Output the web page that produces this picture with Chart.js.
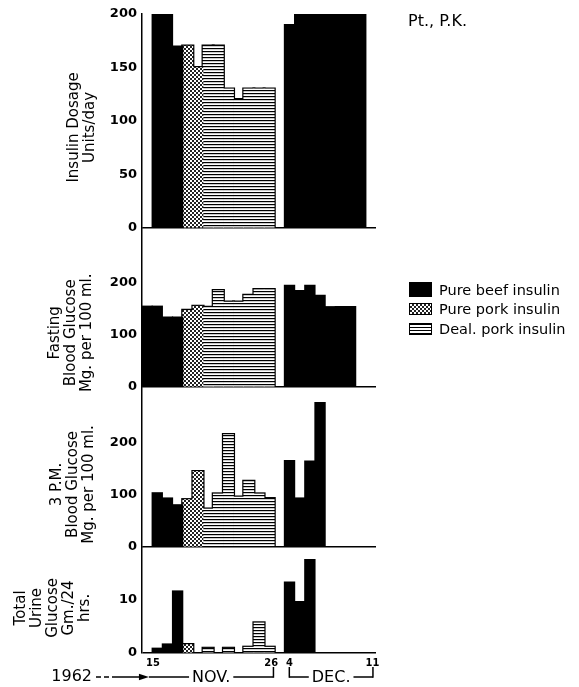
<!DOCTYPE html>
<html>
<head>
<meta charset="utf-8">
<title>Insulin dosage and glucose, Pt. P.K.</title>
<script src="https://cdn.jsdelivr.net/npm/chart.js@4/dist/chart.umd.min.js"></script>
<style>
  html, body { margin: 0; padding: 0; background: #fff; }
  #wrap { position: relative; width: 579px; height: 687px; font-family: "DejaVu Sans", sans-serif; color: #000; }
  #myChart { position: absolute; left: 0; top: 0; }
  #patient { position: absolute; left: 408px; top: 11px; font-size: 16px; }
  #legend { position: absolute; left: 409px; top: 280px; font-size: 14.5px; }
  .row { display: flex; align-items: center; height: 19.5px; white-space: nowrap; }
  .sw { width: 23px; height: 12px; margin-right: 7px; box-sizing: border-box; border: 1.5px solid #000; }
  .sw.beef { background: #000; height: 15px; }
  .sw.pork { background: repeating-conic-gradient(#222 0 25%, #fff 0 50%) 0 0 / 4px 4px; }
  .sw.deal { background: repeating-linear-gradient(to bottom, #000 0 1px, #fff 1px 3px); }
</style>
</head>
<body>
<div id="wrap">
  <canvas id="myChart" width="579" height="687"></canvas>
  <div id="patient">Pt., P.K.</div>
  <div id="legend"></div>
</div>
<script>
// one slot per day, Nov 14 .. Nov 26, a break, then Dec 4 .. Dec 12
const dayLabels = [
  "Nov 14", "Nov 15", "Nov 16", "Nov 17", "Nov 18", "Nov 19", "Nov 20",
  "Nov 21", "Nov 22", "Nov 23", "Nov 24", "Nov 25", "Nov 26", "...",
  "Dec 4", "Dec 5", "Dec 6", "Dec 7", "Dec 8", "Dec 9", "Dec 10", "Dec 11", "Dec 12",
];

const seriesNames = ["Pure beef insulin", "Pure pork insulin", "Deal. pork insulin"];

// Insulin dosage, units/day
const insulinBeef = [null, 200, 200, 170, null, null, null, null, null, null, null, null, null, null, 190, 200, 200, 200, 200, 200, 200, 200, null];
const insulinPork = [null, null, null, null, 170, 150, null, null, null, null, null, null, null, null, null, null, null, null, null, null, null, null, null];
const insulinDeal = [null, null, null, null, null, null, 170, 170, 130, 120, 130, 130, 130, null, null, null, null, null, null, null, null, null, null];

// Fasting blood glucose, mg per 100 ml
const fastingBeef = [155, 155, 134, 134, null, null, null, null, null, null, null, null, null, null, 195, 185, 195, 176, 154, 154, 154, null, null];
const fastingPork = [null, null, null, null, 147, 155, null, null, null, null, null, null, null, null, null, null, null, null, null, null, null, null, null];
const fastingDeal = [null, null, null, null, null, null, 153, 185, 163, 163, 176, 187, 187, null, null, null, null, null, null, null, null, null, null];

// 3 P.M. blood glucose, mg per 100 ml
const pmBeef = [null, 104, 94, 81, null, null, null, null, null, null, null, null, null, null, 166, 94, 165, 277, null, null, null, null, null];
const pmPork = [null, null, null, null, 91, 145, null, null, null, null, null, null, null, null, null, null, null, null, null, null, null, null, null];
const pmDeal = [null, null, null, null, null, null, 73, 102, 216, 96, 126, 102, 93, null, null, null, null, null, null, null, null, null, null];

// Total urine glucose, gm/24 hrs
const urineBeef = [null, 0.9, 1.7, 11.7, null, null, null, null, null, null, null, null, null, null, 13.4, 9.7, 17.6, null, null, null, null, null, null];
const urinePork = [null, null, null, null, 1.6, null, null, null, null, null, null, null, null, null, null, null, null, null, null, null, null, null, null];
const urineDeal = [null, null, null, null, null, null, 0.9, null, 0.9, null, 1.1, 5.7, 1.1, null, null, null, null, null, null, null, null, null, null];

const insulinTicks = [0, 50, 100, 150, 200];
const glucoseTicks = [0, 100, 200];
const urineTicks = [0, 10];

// date axis along the bottom
const dateTicks = ["15", "26", "4", "11"];
const dateTickAt = [0.57, 12.2, 13.98, 22.15];
const yearLabel = "1962";
const monthLabels = ["NOV.", "DEC."];
const monthSpans = [[0.18, 12.42], [13.98, 22.2]];

const panelTitles = [
  ["Insulin Dosage", "Units/day"],
  ["Fasting", "Blood Glucose", "Mg. per 100 ml."],
  ["3 P.M.", "Blood Glucose", "Mg. per 100 ml."],
  ["Total", "Urine", "Glucose", "Gm./24", "hrs."],
];

function makePattern(size, draw) {
  const c = document.createElement("canvas");
  c.width = size[0];
  c.height = size[1];
  draw(c.getContext("2d"));
  return c.getContext("2d").createPattern(c, "repeat");
}
const dots = makePattern([4, 4], (g) => {
  g.fillStyle = "#fff";
  g.fillRect(0, 0, 4, 4);
  g.fillStyle = "#222";
  g.fillRect(0, 0, 2, 2);
  g.fillRect(2, 2, 2, 2);
});
const stripes = makePattern([4, 3], (g) => {
  g.fillStyle = "#fff";
  g.fillRect(0, 0, 4, 3);
  g.fillStyle = "#000";
  g.fillRect(0, 0, 4, 1.2);
});

const panels = [
  { id: "yIns", max: 200, ticks: insulinTicks, weight: 4, share: 214, titleX: 74, titleAt: 94, beef: insulinBeef, pork: insulinPork, deal: insulinDeal },
  { id: "yFast", max: 305, ticks: glucoseTicks, weight: 3, share: 159, titleX: 55, titleAt: 104, beef: fastingBeef, pork: fastingPork, deal: fastingDeal },
  { id: "yPm", max: 307, ticks: glucoseTicks, weight: 2, share: 160, titleX: 57, titleAt: 120, beef: pmBeef, pork: pmPork, deal: pmDeal },
  { id: "yUrine", max: 20, ticks: urineTicks, weight: 1, share: 106, titleX: 21, titleAt: 8.5, beef: urineBeef, pork: urinePork, deal: urineDeal },
];

// outline sets are drawn black and inflated under the patterned fill,
// so only the outer contour of each run of days shows
function panelDatasets(p) {
  return [
    { label: seriesNames[0], data: p.beef, backgroundColor: "#000", inflateAmount: 0.6, order: 1 },
    { label: seriesNames[1], data: p.pork, backgroundColor: "#000", inflateAmount: 1.5, order: 2 },
    { label: seriesNames[1], data: p.pork, backgroundColor: dots, inflateAmount: 0.3, order: 1 },
    { label: seriesNames[2], data: p.deal, backgroundColor: "#000", inflateAmount: 1.5, order: 2 },
    { label: seriesNames[2], data: p.deal, backgroundColor: stripes, inflateAmount: 0.3, order: 1 },
  ].map((d) => ({
    ...d,
    xAxisID: "x",
    yAxisID: p.id,
    grouped: false,
    barPercentage: 1,
    categoryPercentage: 1,
    borderWidth: 0,
  }));
}

function panelScale(p) {
  return {
    type: "linear",
    position: "left",
    stack: "panels",
    stackWeight: p.share,
    weight: p.weight,
    min: 0,
    max: p.max,
    afterBuildTicks: (s) => {
      s.ticks = p.ticks.map((v) => ({ value: v }));
    },
    afterFit: (s) => {
      s.width = 142;
    },
    ticks: {
      color: "#000",
      padding: 5,
      font: { family: "DejaVu Sans", size: 13, weight: "bold" },
    },
    grid: {
      drawTicks: false,
      lineWidth: 1.5,
      color: (c) => (c.tick && c.tick.value === 0 ? "#000" : "rgba(0,0,0,0)"),
    },
    border: { color: "#000", width: 1.5 },
  };
}

const panelTitlePlugin = {
  id: "panelTitles",
  afterDraw(chart) {
    const ctx = chart.ctx;
    ctx.save();
    ctx.fillStyle = "#000";
    ctx.font = "15px 'DejaVu Sans'";
    ctx.textAlign = "center";
    ctx.textBaseline = "middle";
    panels.forEach((p, i) => {
      const cy = chart.scales[p.id].getPixelForValue(p.titleAt);
      ctx.save();
      ctx.translate(p.titleX, cy);
      ctx.rotate(-Math.PI / 2);
      panelTitles[i].forEach((line, j) => ctx.fillText(line, 0, j * 16));
      ctx.restore();
    });
    ctx.restore();
  },
};

const dateRowPlugin = {
  id: "dateRow",
  afterDraw(chart) {
    const ctx = chart.ctx;
    const xs = chart.scales.xd;
    const px = (v) => xs.getPixelForValue(v);
    const y = 677;
    const yUp = 667;
    const seg = (x1, y1, x2, y2) => {
      ctx.beginPath();
      ctx.moveTo(x1, y1);
      ctx.lineTo(x2, y2);
      ctx.stroke();
    };
    ctx.save();
    ctx.strokeStyle = "#000";
    ctx.fillStyle = "#000";
    ctx.lineWidth = 1.5;
    ctx.textBaseline = "middle";

    ctx.font = "16px 'DejaVu Sans'";
    ctx.textAlign = "right";
    ctx.fillText(yearLabel, 92, y);

    const tip = px(monthSpans[0][0]);
    ctx.setLineDash([5, 3]);
    seg(96, y, 113, y);
    ctx.setLineDash([]);
    seg(113, y, tip - 6, y);
    ctx.beginPath();
    ctx.moveTo(tip, y);
    ctx.lineTo(tip - 10, y - 3.2);
    ctx.lineTo(tip - 10, y + 3.2);
    ctx.closePath();
    ctx.fill();

    ctx.font = "16px 'DejaVu Sans'";
    ctx.textAlign = "center";
    monthSpans.forEach(([a, b], i) => {
      const xa = px(a);
      const xb = px(b);
      const mid = (xa + xb) / 2;
      const half = ctx.measureText(monthLabels[i]).width / 2 + 3;
      seg(xa, y, mid - half, y);
      seg(mid + half, y, xb, y);
      ctx.fillText(monthLabels[i], mid, y + 1);
      if (i > 0) seg(xa, y + 0.75, xa, yUp);
      seg(xb, y + 0.75, xb, yUp);
    });
    ctx.restore();
  },
};

const scales = {
  x: { type: "category", display: false, offset: true },
  xd: {
    type: "linear",
    position: "bottom",
    offset: false,
    min: -0.5,
    max: dayLabels.length - 0.5,
    afterBuildTicks: (s) => {
      s.ticks = dateTickAt.map((v) => ({ value: v }));
    },
    afterFit: (s) => {
      s.height = 34;
    },
    grid: { display: false, drawTicks: false },
    border: { display: false },
    ticks: {
      autoSkip: false,
      maxRotation: 0,
      padding: 4,
      color: "#000",
      font: { family: "DejaVu Sans Condensed", size: 11, weight: "bold" },
      callback: (value, index) => dateTicks[index],
    },
  },
};
panels.forEach((p) => {
  scales[p.id] = panelScale(p);
});

new Chart(document.getElementById("myChart"), {
  type: "bar",
  data: { labels: dayLabels, datasets: panels.flatMap(panelDatasets) },
  options: {
    responsive: false,
    animation: false,
    events: [],
    layout: { padding: { left: 0, right: 203, top: 14, bottom: 0 } },
    scales,
    plugins: { legend: { display: false }, tooltip: { enabled: false } },
  },
  plugins: [panelTitlePlugin, dateRowPlugin],
});

// legend
const legend = document.getElementById("legend");
["beef", "pork", "deal"].forEach((kind, i) => {
  legend.innerHTML += `<div class="row"><span class="sw ${kind}"></span><span>${seriesNames[i]}</span></div>`;
});
</script>
</body>
</html>
